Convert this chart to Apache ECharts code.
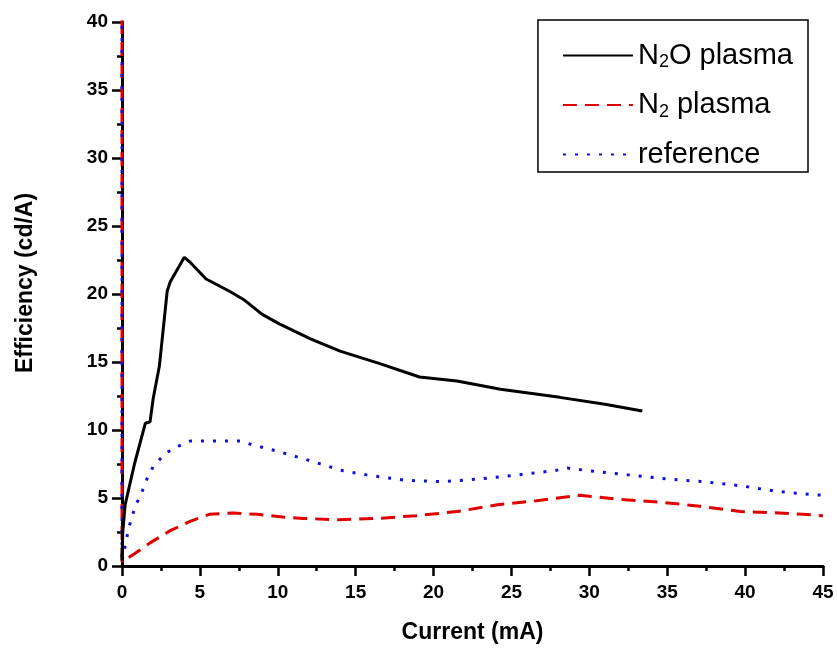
<!DOCTYPE html>
<html><head><meta charset="utf-8">
<script src="https://cdn.jsdelivr.net/npm/echarts@6/dist/echarts.min.js"></script>
<style>html,body{margin:0;padding:0;background:#fff}#c{width:837px;height:649px}</style>
</head><body><div id="c"></div>
<script>
const seriesNames = ['N2O plasma', 'N2 plasma', 'reference'];
const xTicks = [0,5,10,15,20,25,30,35,40,45];
const yTicks = [0,5,10,15,20,25,30,35,40];
const n2oData = [[0,0.4],[0.05,2.5],[0.2,4.5],[0.8,7.5],[1.5,10.5],[1.8,10.6],[2.0,12.3],[2.4,14.7],[2.9,20.2],[3.1,20.9],[4.0,22.7],[4.4,22.3],[5.4,21.1],[6.9,20.2],[7.8,19.6],[9.0,18.5],[10.1,17.8],[12.1,16.7],[14.0,15.8],[16.5,14.9],[19.1,13.9],[21.5,13.6],[24.3,13.0],[28.1,12.4],[31.0,11.9],[33.4,11.4]];
const n2Data = [[0,45],[0,0.3],[0.05,0.4],[0.8,0.9],[1.8,1.7],[3.1,2.6],[4.4,3.3],[5.6,3.8],[7.1,3.9],[8.7,3.8],[10.3,3.6],[11.6,3.5],[13.9,3.4],[16.4,3.5],[18.9,3.7],[21.5,4.0],[24.1,4.5],[26.6,4.8],[29.4,5.2],[32.0,4.9],[34.5,4.7],[37.1,4.4],[39.7,4.0],[42.2,3.9],[43.7,3.8],[45,3.7]];
const refData = [[0,45],[0,0.2],[0.05,0.6],[0.4,2.6],[0.6,3.5],[0.9,4.5],[1.3,5.5],[1.6,6.4],[2.0,7.3],[2.8,8.3],[3.6,8.8],[4.4,9.2],[6.1,9.2],[7.6,9.2],[8.4,8.9],[10.1,8.4],[11.9,7.8],[14.2,7.0],[15.7,6.7],[18.2,6.3],[20.6,6.2],[23.0,6.4],[25.4,6.7],[27.7,7.0],[28.6,7.2],[30.0,7.0],[32.5,6.7],[35.0,6.4],[37.3,6.2],[39.7,5.9],[42.0,5.5],[43.7,5.3],[45,5.2]];

const chart = echarts.init(document.getElementById('c'));
const font = 'Liberation Sans, Arial, sans-serif';
const axisCommon = {
  axisLine:{show:true,lineStyle:{color:'#000',width:3}},
  axisTick:{show:true,inside:false,length:10,lineStyle:{color:'#000',width:2.5}},
  minorTick:{show:true,splitNumber:2,length:5,lineStyle:{color:'#000',width:2.5}},
  splitLine:{show:false}
};
const nameStyle = {color:'#000',fontFamily:font,fontWeight:'bold',fontSize:23};
const labelStyle = {color:'#000',fontFamily:font,fontWeight:'bold',fontSize:19};
chart.setOption({
  animation:false,
  grid:{left:122,right:14,top:22,bottom:81,containLabel:false},
  xAxis:Object.assign({type:'value',min:xTicks[0],max:xTicks[xTicks.length-1],interval:5,
    name:'Current (mA)',nameLocation:'middle',nameGap:55,nameTextStyle:nameStyle},axisCommon,
    {axisLabel:Object.assign({},labelStyle,{margin:17})}),
  yAxis:Object.assign({type:'value',min:yTicks[0],max:yTicks[yTicks.length-1],interval:5,
    name:'Efficiency (cd/A)',nameLocation:'middle',nameGap:85,nameRotate:90,
    nameTextStyle:Object.assign({},nameStyle,{padding:[0,0,0,22]})},axisCommon,
    {axisLabel:Object.assign({},labelStyle,{margin:14})}),
  legend:{
    orient:'vertical',right:29,top:20,
    backgroundColor:'#fff',borderColor:'#000',borderWidth:1.5,borderRadius:0,
    padding:[21,15,3,24],itemGap:19,itemWidth:70,itemHeight:14,
    itemStyle:{color:'rgba(0,0,0,0)',borderWidth:0,opacity:0},
    data:seriesNames,
    textStyle:{color:'#000',fontFamily:font,fontSize:29,
      rich:{sub:{fontSize:18,verticalAlign:'bottom',padding:[14,0,0,0],fontFamily:font,color:'#000'}}},
    formatter:function(n){
      if(n==='N2O plasma') return 'N{sub|2}O plasma';
      if(n==='N2 plasma') return 'N{sub|2} plasma';
      return n;
    }
  },
  series:[
    {name:seriesNames[1],type:'line',data:n2Data,symbol:'none',clip:true,
      lineStyle:{color:'#e00000',width:3,type:[14,8]},itemStyle:{color:'#e00000'}},
    {name:seriesNames[2],type:'line',data:refData,symbol:'none',clip:true,
      lineStyle:{color:'#1010e0',width:3,type:[3,9]},itemStyle:{color:'#1010e0'}},
    {name:seriesNames[0],type:'line',data:n2oData,symbol:'none',clip:true,
      lineStyle:{color:'#000',width:3},itemStyle:{color:'#000'}}
  ]
});
</script></body></html>
